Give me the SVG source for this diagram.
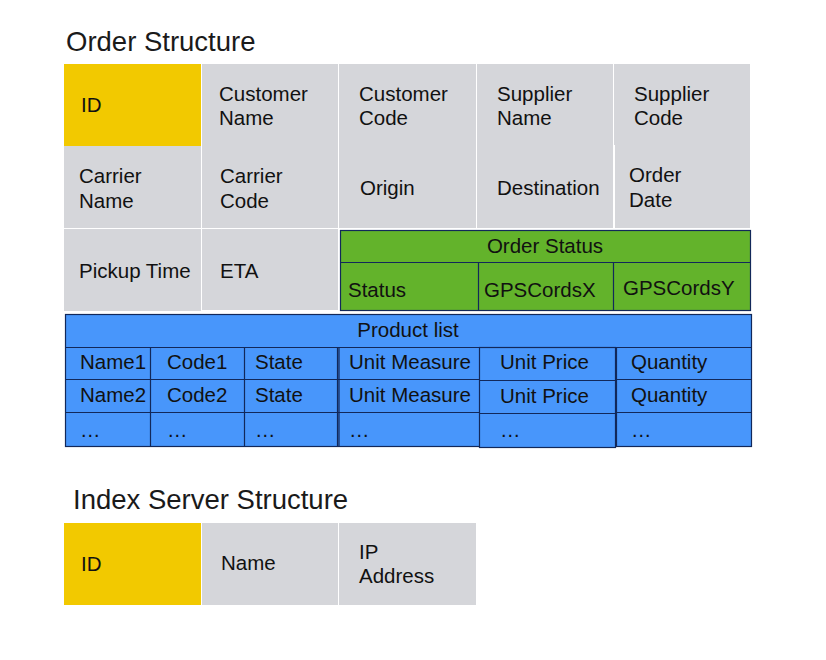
<svg xmlns="http://www.w3.org/2000/svg" width="826" height="660" viewBox="0 0 826 660">
<style>
text{font-family:"Liberation Sans",Arial,sans-serif;font-size:20.5px;fill:#111}
.title{font-size:27.5px;fill:#1a1a1a}
.g{fill:#d5d6da}
.y{fill:#f2c900}
.gr{fill:#63b32b;stroke:#12285a;stroke-width:1.2}
.b{fill:#4896fb;stroke:#12285a;stroke-width:1.2}
.ln{stroke:#12285a;stroke-width:1.2;fill:none}
.c{text-anchor:middle}
</style>
<rect width="826" height="660" fill="#fff"/>
<text class="title" x="66" y="51">Order Structure</text>
<g id="order-structure">
<g id="id"><rect class="y" x="64" y="64" width="137" height="82"/><text x="81" y="112">ID</text></g>
<g id="customer-name"><rect class="g" x="202" y="64" width="136" height="164"/><text x="219"><tspan x="219" y="101">Customer</tspan><tspan x="219" y="125">Name</tspan></text></g>
<g id="customer-code"><rect class="g" x="339" y="64" width="137" height="81"/><text><tspan x="359" y="101">Customer</tspan><tspan x="359" y="125">Code</tspan></text></g>
<g id="supplier-name"><rect class="g" x="477" y="64" width="136" height="81"/><text><tspan x="497" y="101">Supplier</tspan><tspan x="497" y="125">Name</tspan></text></g>
<g id="supplier-code"><rect class="g" x="614" y="64" width="136" height="81"/><text><tspan x="634" y="101">Supplier</tspan><tspan x="634" y="125">Code</tspan></text></g>
<g id="carrier-name"><rect class="g" x="64" y="146" width="137" height="82"/><text><tspan x="79" y="183">Carrier</tspan><tspan x="79" y="208">Name</tspan></text></g>
<g id="carrier-code"><text><tspan x="220" y="183">Carrier</tspan><tspan x="220" y="208">Code</tspan></text></g>
<g id="origin"><rect class="g" x="339" y="145" width="137" height="83"/><text x="360" y="195">Origin</text></g>
<g id="destination"><rect class="g" x="477" y="145" width="136" height="83"/><text x="497" y="195">Destination</text></g>
<g id="order-date"><rect class="g" x="615" y="145" width="135" height="83"/><text><tspan x="629" y="182">Order</tspan><tspan x="629" y="207">Date</tspan></text></g>
<g id="pickup-time"><rect class="g" x="64" y="229" width="137" height="82"/><text x="79" y="278">Pickup Time</text></g>
<g id="eta"><rect class="g" x="202" y="229" width="136" height="81"/><text x="220" y="278">ETA</text></g>
<g id="order-status">
<rect class="gr" x="340.5" y="230.5" width="410" height="80"/>
<text class="c" x="545" y="253">Order Status</text>
<text x="348" y="297">Status</text>
<text x="484" y="297">GPSCordsX</text>
<text x="623" y="295">GPSCordsY</text>
</g>
<g id="product-list">
<rect class="b" x="65.5" y="314.5" width="686" height="132"/>
<rect class="b" x="479.5" y="347.5" width="136" height="100"/>
<text class="c" x="408" y="337">Product list</text>
<text x="80" y="369">Name1</text><text x="167" y="369">Code1</text><text x="255" y="369">State</text><text x="349" y="369">Unit Measure</text><text x="500" y="369">Unit Price</text><text x="631" y="369">Quantity</text>
<text x="80" y="402">Name2</text><text x="167" y="402">Code2</text><text x="255" y="402">State</text><text x="349" y="402">Unit Measure</text><text x="500" y="403">Unit Price</text><text x="631" y="402">Quantity</text>
<text x="80" y="437">…</text><text x="167" y="437">…</text><text x="255" y="437">…</text><text x="349" y="437">…</text><text x="500" y="437">…</text><text x="631" y="437">…</text>
</g>
</g>
<g id="connectors">
<path class="ln" d="M340.5 262.5H750.5M478.5 262.5V310.5M613.5 262.5V310.5"/>
<path class="ln" d="M65.5 347.5H751.5M65.5 379.5H479.5M615.5 379.5H751.5M65.5 412.5H479.5M615.5 412.5H751.5M479.5 380.5H615.5M479.5 413.5H615.5"/>
<path class="ln" d="M150.5 347.5V446.5M244.5 347.5V446.5M337.5 347.5V446.5M339 347.5V446.5M616.5 347.5V446.5"/>
</g>
<text class="title" x="73" y="509">Index Server Structure</text>
<g id="index-server-structure">
<g id="is-id"><rect class="y" x="64" y="523" width="137" height="82"/><text x="81" y="571">ID</text></g>
<g id="is-name"><rect class="g" x="202" y="523" width="136" height="82"/><text x="221" y="570">Name</text></g>
<g id="is-ip"><rect class="g" x="339" y="523" width="137" height="82"/><text><tspan x="359" y="559">IP</tspan><tspan x="359" y="583">Address</tspan></text></g>
</g>
</svg>
